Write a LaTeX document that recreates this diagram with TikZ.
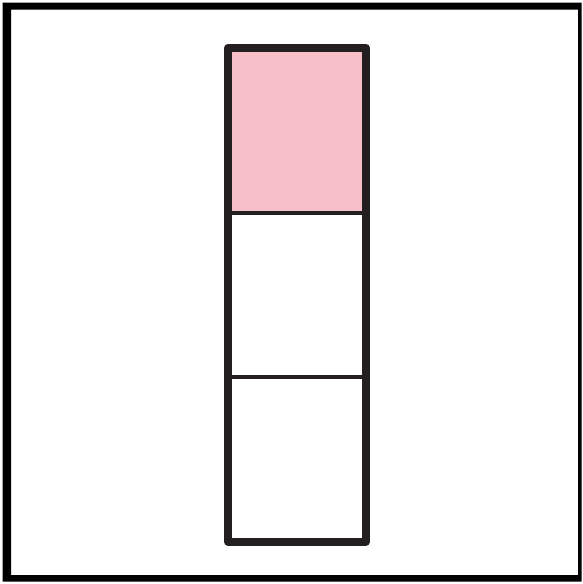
\documentclass[tikz,border=0pt]{standalone}
\usetikzlibrary{positioning}

\definecolor{cellpink}{RGB}{247,191,199}
\definecolor{inkdark}{RGB}{35,31,32}

\tikzset{
    cellbox/.style={draw=inkdark, line width=4pt, minimum width=138pt,
        minimum height=164.5pt, inner sep=0pt, outer sep=0pt},
}

\begin{document}
\begin{tikzpicture}[x=1pt,y=-1pt]

% ===== Frame =====
\useasboundingbox (0,0) rectangle (582,584);
\fill[black, even odd rule] (2.7,2.7) rectangle (581.5,581.7)
    (11,9.5) rectangle (578,575);

% ===== Cells =====
\node[cellbox, fill=cellpink] (cellA) at (297,130.25) {};
\node[cellbox, below=0pt of cellA] (cellB) {};
\node[cellbox, below=0pt of cellB] (cellC) {};

% ===== Thick outline =====
\draw[inkdark, line width=8pt, line join=round] (cellA.north west) rectangle (cellC.south east);

\end{tikzpicture}
\end{document}
